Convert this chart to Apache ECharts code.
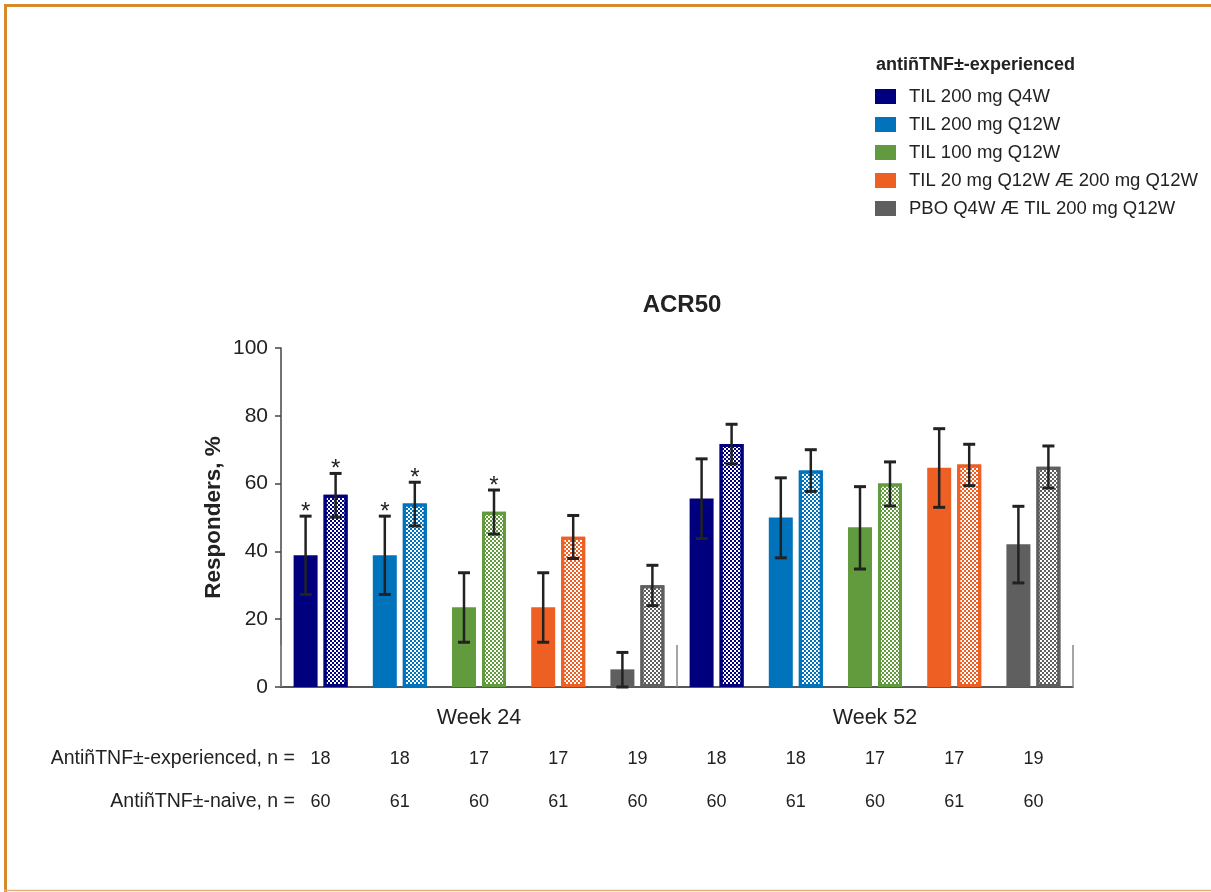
<!DOCTYPE html>
<html>
<head>
<meta charset="utf-8">
<script src="https://cdn.jsdelivr.net/npm/echarts@6/dist/echarts.min.js"></script>
<style>
html,body{margin:0;padding:0;background:#fff;}
#chart{width:1211px;height:892px;}
</style>
</head>
<body>
<div id="chart"></div>
<script>
// ---- data ----
var groups = ['TIL 200 mg Q4W', 'TIL 200 mg Q12W', 'TIL 100 mg Q12W', 'TIL 20 mg Q12W \u00C6 200 mg Q12W', 'PBO Q4W \u00C6 TIL 200 mg Q12W'];
var colors = ['#00007F', '#0073BC', '#629A3E', '#EE5F24', '#5F5F5F'];
var weeks = ['Week 24', 'Week 52'];
var categories = ['W24-1','W24-2','W24-3','W24-4','W24-5','W52-1','W52-2','W52-3','W52-4','W52-5'];
var expVals  = [38.9, 38.9, 23.5, 23.5, 5.2, 55.6, 50.0, 47.1, 64.7, 42.1];
var expLow   = [27.3, 27.3, 13.2, 13.2, 0.0, 43.8, 38.1, 34.8, 53.0, 30.7];
var expHigh  = [50.4, 50.4, 33.7, 33.7, 10.2, 67.3, 61.7, 59.1, 76.2, 53.3];
var expStar  = [1, 1, 0, 0, 0, 0, 0, 0, 0, 0];
var naiveVals = [56.7, 54.1, 51.7, 44.3, 30.0, 71.7, 63.9, 60.0, 65.6, 65.0];
var naiveLow  = [50.1, 47.5, 45.1, 37.9, 24.0, 65.8, 57.7, 53.4, 59.4, 58.7];
var naiveHigh = [63.0, 60.4, 58.1, 50.6, 35.9, 77.5, 70.0, 66.4, 71.6, 71.1];
var naiveStar = [1, 1, 1, 0, 0, 0, 0, 0, 0, 0];
var nExp   = [18, 18, 17, 17, 19, 18, 18, 17, 17, 19];
var nNaive = [60, 61, 60, 61, 60, 60, 61, 60, 61, 60];
var yTicks = [0, 20, 40, 60, 80, 100];

var FONT = '"Liberation Sans", Arial, Helvetica, sans-serif';
var BAR_W = 24, BAR_GAP = 6;

function solidData(){
  return expVals.map(function(v,i){
    return {value: v, itemStyle: {color: colors[i % 5]}};
  });
}
function checkData(){
  return naiveVals.map(function(v,i){
    var c = colors[i % 5];
    return {value: v, itemStyle: {
      color: '#ffffff', borderColor: c, borderWidth: 3,
      decal: {symbol: 'rect', symbolSize: 1, color: c,
              dashArrayX: [[2, 2], [0, 2, 2, 0]], dashArrayY: [2, 0]}
    }};
  });
}
function errData(lo, hi, st){
  return lo.map(function(l,i){ return [i, l, hi[i], st[i]]; });
}
function errRender(offset){
  return function(params, api){
    var c = api.value(0);
    var x = api.coord([c, 0])[0] + offset;
    var yl = api.coord([c, api.value(1)])[1];
    var yh = api.coord([c, api.value(2)])[1];
    var st = {stroke: '#222', lineWidth: 2.5};
    var ch = [
      {type:'line', shape:{x1:x, y1:yl, x2:x, y2:yh}, style: st},
      {type:'line', shape:{x1:x-6, y1:yh, x2:x+6, y2:yh}, style:{stroke:'#222', lineWidth:3}},
      {type:'line', shape:{x1:x-6, y1:yl, x2:x+6, y2:yl}, style:{stroke:'#222', lineWidth:3}}
    ];
    if (api.value(3)) {
      ch.push({type:'text', x: x, y: yh - 4, style:{text:'*', fill:'#222', font:'24px ' + FONT, align:'center', verticalAlign:'middle'}});
    }
    return {type:'group', children: ch};
  };
}

var legendSeries = groups.map(function(g,i){
  return {name: g, type: 'line', data: [], color: colors[i], xAxisIndex: 0, yAxisIndex: 0};
});

var chart = echarts.init(document.getElementById('chart'), null, {renderer: 'canvas'});
var option = {
  backgroundColor: '#fff',
  animation: false,
  textStyle: {fontFamily: FONT},
  title: [
    {text: 'ACR50', left: 677, top: 288, textAlign: 'center',
     textStyle: {fontSize: 24, fontWeight: 'bold', color: '#222', fontFamily: FONT}},
    {text: 'anti\u00F1TNF\u00B1-experienced', left: 871, top: 51,
     textStyle: {fontSize: 18, fontWeight: 'bold', color: '#222', fontFamily: FONT}}
  ],
  legend: {
    orient: 'vertical', left: 875, top: 87, padding: 0,
    itemWidth: 21, itemHeight: 15, itemGap: 9, icon: 'rect',
    data: groups,
    textStyle: {fontSize: 18.5, color: '#222', fontFamily: FONT, padding: [0,0,0,8]}
  },
  grid: {left: 281, right: 138, top: 348, bottom: 205, containLabel: false},
  xAxis: [
    {type: 'category', data: categories, position: 'bottom',
     axisLine: {show: true, lineStyle: {color: '#222', width: 1.5}},
     axisTick: {show: false},
     axisLabel: {
       interval: 0, margin: 51,
       formatter: function(v, i){ return '{a|' + nExp[i] + '}\n{a|' + nNaive[i] + '}'; },
       rich: {a: {fontSize: 18, color: '#222', lineHeight: 43, fontFamily: FONT}}
     }},
    {type: 'category', data: weeks, position: 'bottom', gridIndex: 0,
     axisLine: {show: false},
     axisTick: {show: true, inside: true, length: 42, lineStyle: {color: '#888', width: 1.5}},
     axisLabel: {fontSize: 21.5, color: '#222', margin: 20, fontFamily: FONT}}
  ],
  yAxis: {
    type: 'value', min: 0, max: 100, interval: 20,
    name: 'Responders, %', nameLocation: 'middle', nameGap: 56, nameRotate: 90,
    nameMoveOverlap: false,
    nameTextStyle: {fontSize: 22.5, fontWeight: 'bold', color: '#222', fontFamily: FONT},
    axisLine: {show: true, lineStyle: {color: '#444', width: 1.5}},
    axisTick: {show: true, length: 6, lineStyle: {color: '#444', width: 1.5}},
    axisLabel: {fontSize: 21, color: '#222', margin: 13, fontFamily: FONT,
                formatter: function(v){ return yTicks.indexOf(v) >= 0 ? String(v) : ''; }},
    splitLine: {show: false}
  },
  series: [
    {name: 'experienced', type: 'bar', data: solidData(), barWidth: BAR_W, barGap: (BAR_GAP / BAR_W * 100) + '%'},
    {name: 'naive', type: 'bar', data: checkData(), barWidth: BAR_W, barGap: (BAR_GAP / BAR_W * 100) + '%'},
    {name: 'errExp', type: 'custom', data: errData(expLow, expHigh, expStar), renderItem: errRender(-(BAR_W + BAR_GAP) / 2), z: 5},
    {name: 'errNaive', type: 'custom', data: errData(naiveLow, naiveHigh, naiveStar), renderItem: errRender((BAR_W + BAR_GAP) / 2), z: 5}
  ].concat(legendSeries),
  graphic: [
    {type: 'text', right: 1211 - 295, top: 749, style: {text: 'Anti\u00F1TNF\u00B1-experienced, n =', fill: '#222', font: '19.5px ' + FONT, align: 'right'}},
    {type: 'text', right: 1211 - 295, top: 792, style: {text: 'Anti\u00F1TNF\u00B1-naive, n =', fill: '#222', font: '19.5px ' + FONT, align: 'right'}},
    {type: 'line', shape: {x1: 5.5, y1: 5, x2: 5.5, y2: 892}, style: {stroke: '#D68A2C', lineWidth: 3}},
    {type: 'line', shape: {x1: 4, y1: 5.5, x2: 1211, y2: 5.5}, style: {stroke: '#D68A2C', lineWidth: 3}},
    {type: 'line', shape: {x1: 4, y1: 890.5, x2: 1211, y2: 890.5}, style: {stroke: '#E2B27A', lineWidth: 1.5}}
  ]
};
chart.setOption(option);
</script>
</body>
</html>
